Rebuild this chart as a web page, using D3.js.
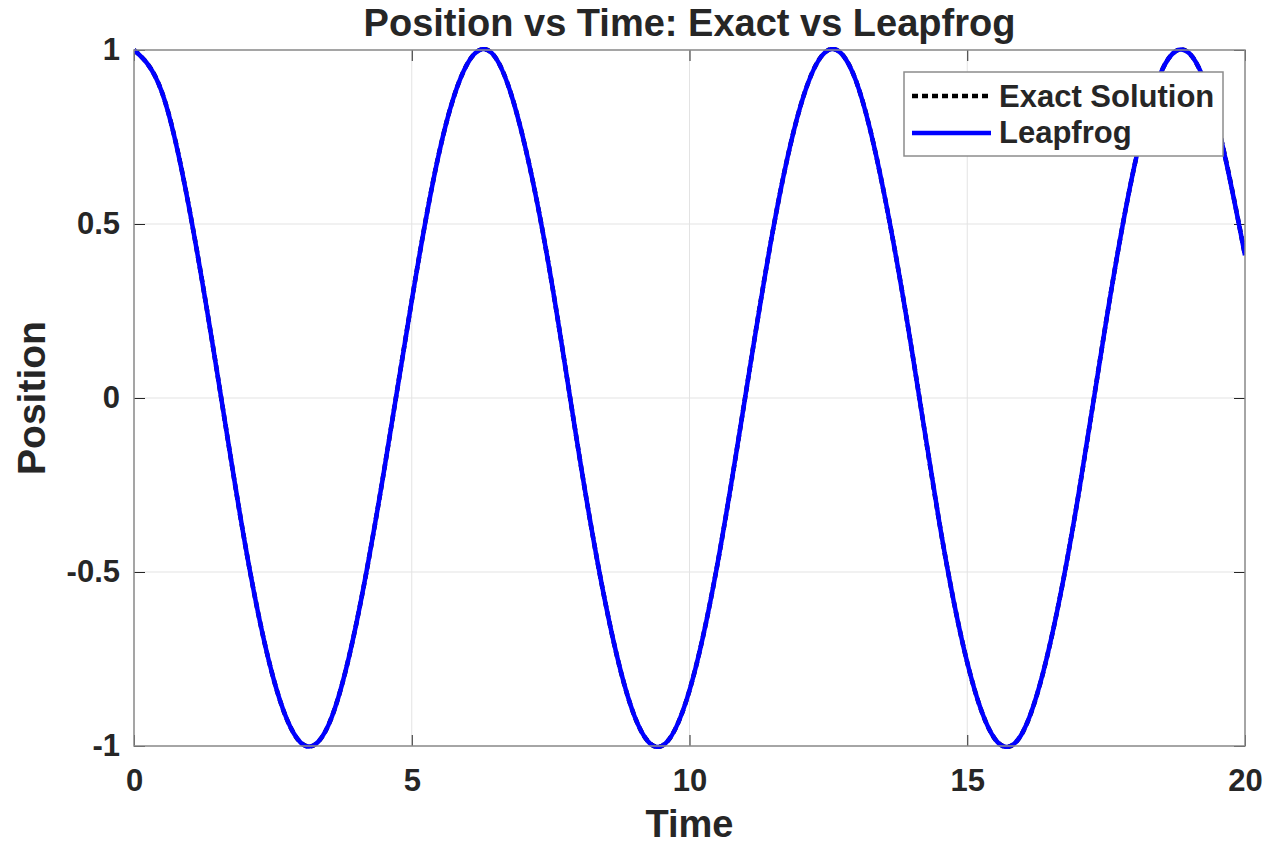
<!DOCTYPE html>
<html>
<head>
<meta charset="utf-8">
<script src="https://cdn.jsdelivr.net/npm/d3@7"></script>
<style>
  html, body { margin: 0; padding: 0; background: #fff; }
  text { font-family: "Liberation Sans", Arial, sans-serif; font-weight: bold; fill: #262626; }
</style>
</head>
<body>
<svg id="chart" width="1269" height="845"></svg>
<script>
// Sample times (s)
const time = [0, 0.5, 1, 1.5, 2, 2.5, 3, 3.5, 4, 4.5, 5, 5.5, 6, 6.5, 7, 7.5, 8, 8.5, 9, 9.5,
  10, 10.5, 11, 11.5, 12, 12.5, 13, 13.5, 14, 14.5, 15, 15.5, 16, 16.5, 17, 17.5, 18, 18.5, 19, 19.5, 20];

// Exact solution position at each sample time
const exactPosition = [1.00, 0.88, 0.54, 0.07, -0.42, -0.80, -0.99, -0.94, -0.65, -0.21,
  0.28, 0.71, 0.96, 0.98, 0.75, 0.35, -0.15, -0.60, -0.91, -1.00,
  -0.84, -0.48, 0.00, 0.48, 0.84, 1.00, 0.91, 0.59, 0.14, -0.36,
  -0.76, -0.98, -0.96, -0.70, -0.28, 0.22, 0.66, 0.94, 0.99, 0.79, 0.41];

// Leapfrog integrator position at each sample time
const leapfrogPosition = [1.00, 0.88, 0.54, 0.07, -0.42, -0.80, -0.99, -0.94, -0.65, -0.21,
  0.28, 0.71, 0.96, 0.98, 0.75, 0.35, -0.15, -0.60, -0.91, -1.00,
  -0.84, -0.48, 0.00, 0.48, 0.84, 1.00, 0.91, 0.59, 0.14, -0.36,
  -0.76, -0.98, -0.96, -0.70, -0.28, 0.22, 0.66, 0.94, 0.99, 0.79, 0.41];

const xTicks = [0, 5, 10, 15, 20];
const yTicks = [-1, -0.5, 0, 0.5, 1];
const yTickLabels = ["-1", "-0.5", "0", "0.5", "1"];

const svg = d3.select("#chart");
const plotLeft = 134, plotRight = 1245, plotTop = 50, plotBottom = 746;

const x = d3.scaleLinear().domain([0, 20]).range([plotLeft, plotRight]);
const y = d3.scaleLinear().domain([-1, 1]).range([plotBottom, plotTop]);

// Grid lines
const grid = svg.append("g");
grid.selectAll(".gx").data(xTicks).join("line")
  .attr("x1", d => x(d)).attr("x2", d => x(d))
  .attr("y1", plotTop).attr("y2", plotBottom)
  .attr("stroke", "#e3e3e3").attr("stroke-width", 1);
grid.selectAll(".gy").data(yTicks).join("line")
  .attr("y1", d => y(d)).attr("y2", d => y(d))
  .attr("x1", plotLeft).attr("x2", plotRight)
  .attr("stroke", "#e3e3e3").attr("stroke-width", 1);

// Axes with inward ticks
const xAxisB = svg.append("g").attr("transform", `translate(0,${plotBottom})`)
  .call(d3.axisBottom(x).tickValues(xTicks).tickSize(-11).tickPadding(23).tickFormat(d3.format("d")));
const xAxisT = svg.append("g").attr("transform", `translate(0,${plotTop})`)
  .call(d3.axisTop(x).tickValues(xTicks).tickSize(-11).tickFormat(""));
const yAxisL = svg.append("g").attr("transform", `translate(${plotLeft},0)`)
  .call(d3.axisLeft(y).tickValues(yTicks).tickSize(-11).tickPadding(14)
    .tickFormat((d, i) => yTickLabels[i]));
const yAxisR = svg.append("g").attr("transform", `translate(${plotRight},0)`)
  .call(d3.axisRight(y).tickValues(yTicks).tickSize(-11).tickFormat(""));

[xAxisB, xAxisT, yAxisL, yAxisR].forEach(g => {
  g.select(".domain").remove();
  g.selectAll(".tick line").attr("stroke", "#262626").attr("stroke-width", 1);
  g.selectAll(".tick text").attr("font-size", 31).attr("fill", "#262626")
    .style("font-family", "'Liberation Sans', Arial, sans-serif").style("font-weight", "bold");
});

// Lines
const line = d3.line().curve(d3.curveNatural);
const exactPts = time.map((t, i) => [x(t), y(exactPosition[i])]);
const leapPts = time.map((t, i) => [x(t), y(leapfrogPosition[i])]);

svg.append("defs").append("clipPath").attr("id", "clip")
  .append("rect").attr("x", plotLeft).attr("y", plotTop - 3)
  .attr("width", plotRight - plotLeft).attr("height", plotBottom - plotTop + 6);

svg.append("path").attr("d", line(exactPts)).attr("fill", "none")
  .attr("stroke", "#000").attr("stroke-width", 4.5).attr("stroke-dasharray", "6,4")
  .attr("clip-path", "url(#clip)");
svg.append("path").attr("d", line(leapPts)).attr("fill", "none")
  .attr("stroke", "#0000ff").attr("stroke-width", 4.5)
  .attr("clip-path", "url(#clip)");

// Axes box
svg.append("rect").attr("x", plotLeft).attr("y", plotTop)
  .attr("width", plotRight - plotLeft).attr("height", plotBottom - plotTop)
  .attr("fill", "none").attr("stroke", "#8c8c8c").attr("stroke-width", 1.5);

// Title and axis labels
svg.append("text").attr("x", (plotLeft + plotRight) / 2).attr("y", 36).attr("text-anchor", "middle")
  .attr("font-size", 38).text("Position vs Time: Exact vs Leapfrog");
svg.append("text").attr("x", (plotLeft + plotRight) / 2).attr("y", 837).attr("text-anchor", "middle")
  .attr("font-size", 38).text("Time");
svg.append("text").attr("transform", `translate(45,${(plotTop + plotBottom) / 2}) rotate(-90)`)
  .attr("text-anchor", "middle").attr("font-size", 39).text("Position");

// Legend
const lg = svg.append("g");
lg.append("rect").attr("x", 904).attr("y", 72).attr("width", 319).attr("height", 84)
  .attr("fill", "#fff").attr("stroke", "#8c8c8c").attr("stroke-width", 1.5);
lg.append("line").attr("x1", 912).attr("x2", 991).attr("y1", 96).attr("y2", 96)
  .attr("stroke", "#000").attr("stroke-width", 4.5).attr("stroke-dasharray", "6,4");
lg.append("line").attr("x1", 912).attr("x2", 991).attr("y1", 133).attr("y2", 133)
  .attr("stroke", "#0000ff").attr("stroke-width", 4.5);
lg.append("text").attr("x", 999).attr("y", 107).attr("font-size", 31).text("Exact Solution");
lg.append("text").attr("x", 999).attr("y", 143).attr("font-size", 31).text("Leapfrog");
</script>
</body>
</html>
